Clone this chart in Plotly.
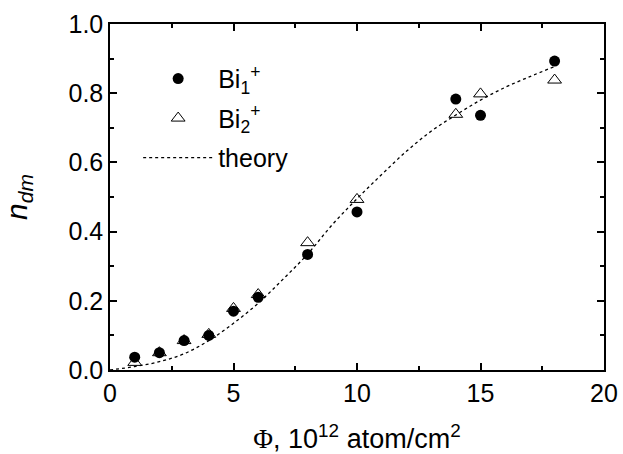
import plotly.graph_objects as go

# Data
phi = [1, 2, 3, 4, 5, 6, 8, 10, 14, 15, 18]
bi1 = [0.037, 0.050, 0.085, 0.100, 0.170, 0.210, 0.334, 0.457, 0.783, 0.736, 0.893]
bi2 = [0.022, 0.050, 0.085, 0.103, 0.178, 0.218, 0.368, 0.493, 0.739, 0.798, 0.838]

theory_x = [0, 1, 2, 3, 4, 5, 6, 7, 8, 9, 10, 11, 12, 13, 14, 15, 16, 17, 18]
theory_y = [0.0, 0.010, 0.024, 0.047, 0.085, 0.135, 0.193, 0.262, 0.335, 0.420, 0.495,
            0.565, 0.632, 0.690, 0.737, 0.780, 0.817, 0.848, 0.877]

FONT = "Liberation Sans, Arial, sans-serif"

fig = go.Figure()
fig.add_trace(go.Scatter(
    x=phi, y=bi1, mode="markers", name="Bi<sub>1</sub><sup>+</sup>", legendgroup="a",
    marker=dict(symbol="circle", size=11, color="black"),
))
fig.add_trace(go.Scatter(
    x=phi, y=bi2, mode="markers", name="Bi<sub>2</sub><sup>+</sup>", legendgroup="b",
    marker=dict(symbol="triangle-up-open", size=12, color="black", line=dict(width=1, color="black")),
))
fig.add_trace(go.Scatter(
    x=theory_x, y=theory_y, mode="lines", name="theory", legendgroup="c",
    line=dict(color="black", width=1.3, dash="3px,3px", shape="spline"),
))

axis_common = dict(
    showline=True, linecolor="black", linewidth=1.5, mirror="ticks",
    ticks="inside", ticklen=7, tickwidth=1.5, tickcolor="black",
    showgrid=False, zeroline=False,
    tickfont=dict(family=FONT, size=25, color="black"),
)

fig.update_xaxes(
    range=[0, 20], dtick=5, tick0=0,
    minor=dict(ticks="inside", ticklen=4, dtick=2.5, tickcolor="black", tickwidth=1.5),
    title=dict(text='<span style="font-family:Liberation Serif, Times New Roman, serif">Φ</span>, 10<sup>12</sup> atom/cm<sup>2</sup>',
               font=dict(family=FONT, size=27, color="black"), standoff=31),
    **axis_common,
)
fig.update_yaxes(
    range=[0, 1], dtick=0.2, tick0=0, tickformat=".1f",
    minor=dict(ticks="inside", ticklen=4, dtick=0.1, tickcolor="black", tickwidth=1.5),
    title=dict(text="<i>n</i><sub><i>dm</i></sub>", font=dict(family=FONT, size=30, color="black"), standoff=33),
    **axis_common,
)

fig.update_layout(
    width=623, height=454,
    margin=dict(l=110, r=19, t=24, b=84, autoexpand=False),
    paper_bgcolor="white", plot_bgcolor="white",
    showlegend=True,
    legend=dict(
        x=0.057, y=0.908, xanchor="left", yanchor="top",
        bgcolor="rgba(0,0,0,0)", borderwidth=0,
        font=dict(family=FONT, size=25, color="black"),
        itemwidth=70, tracegroupgap=4,
    ),
)

fig.write_html("out.html", config={"displayModeBar": False},
               post_script="document.body.style.margin='0';document.body.style.padding='0';")
